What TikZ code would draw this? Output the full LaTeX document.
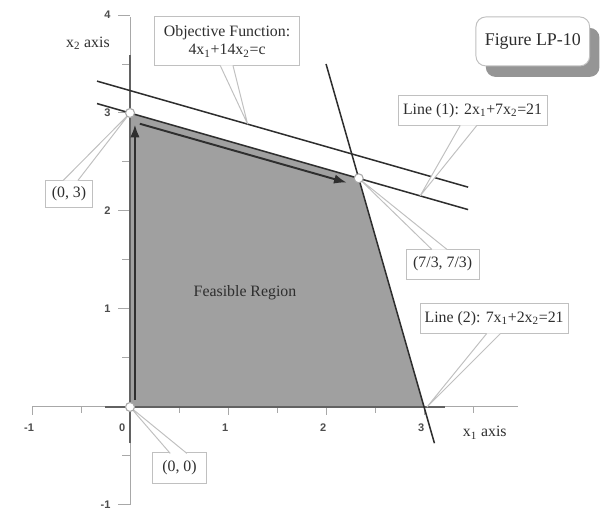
\documentclass[tikz,border=0pt]{standalone}
\usepackage{fontspec}
\setmainfont{Liberation Serif}
\setsansfont{Liberation Sans}
\usetikzlibrary{arrows.meta, calc, shadows}
\definecolor{Region}{HTML}{A0A0A0}
\definecolor{Ink}{HTML}{2E2E2E}
\definecolor{AxisGray}{HTML}{A8A8A8}
\definecolor{BoxGray}{HTML}{C0C0C0}
\definecolor{Shadow}{HTML}{959595}

\begin{document}
\begin{tikzpicture}[
      x=2.5cm, y=2.5cm,
      axis/.style={AxisGray, line width=0.7pt},
      bound/.style={Ink!75, line width=1.6pt},
      constr/.style={Ink, line width=1.1pt},
      walk/.style={-{Latex[length=3.2mm, width=2.4mm]}, Ink, line width=1.4pt},
      vertex/.style={circle, draw=AxisGray, fill=white, line width=0.8pt, inner sep=0pt, minimum size=2.3mm},
      callout/.style={rectangle, draw=BoxGray, fill=white, line width=0.7pt, align=center, inner sep=2pt, font=\fontsize{11.5}{13}\selectfont, text=Ink},
      pointer/.style={draw=BoxGray, fill=white, line width=0.7pt},
      figbox/.style={rectangle, rounded corners=2.5mm, draw=BoxGray, fill=white, line width=0.7pt, font=\fontsize{13}{15}\selectfont, text=Ink, drop shadow={shadow xshift=0.25cm, shadow yshift=-0.28cm, fill=Shadow, opacity=1}},
      ticklabel/.style={font=\sffamily\bfseries\fontsize{8}{9}\selectfont, text=Ink!85},
      axislabel/.style={font=\fontsize{11.5}{13}\selectfont, text=Ink},
  ]
  \useasboundingbox (-1.327,-1.082) rectangle (4.816,4.153);

  % Corner points
  \coordinate (O) at (0,0);
  \coordinate (A) at (0,3);
  \coordinate (B) at (7/3,7/3);
  \coordinate (C) at (3,0);

  % Feasible region
  \fill[Region] (O) -- (A) -- (B) -- (C) -- cycle;

  % Axes and ticks
  \draw[axis] (-1,0) -- (3.96,0);
  \draw[axis] (0,-1) -- (0,3.98);
  \foreach \t in {-1,1,2,3} \draw[axis] (\t,0) -- (\t,-0.08);
  \foreach \t in {-0.5,0.5,1.5,2.5,3.5} \draw[axis] (\t,0) -- (\t,-0.06);
  \foreach \t in {-1,1,2,3,4} \draw[axis] (0,\t) -- (-0.12,\t);
  \foreach \t in {-0.5,0.5,1.5,2.5,3.5} \draw[axis] (0,\t) -- (-0.08,\t);
  \foreach \t in {-1,1,2,3} \node[ticklabel] (xl\t) at (\t-0.03,-0.215) {\t};
  \node[ticklabel] (xl0) at (-0.08,-0.215) {0};
  \foreach \t in {-1,1,2,3,4} \node[ticklabel, anchor=east] (yl\t) at (-0.15,\t) {\t};
  \node[axislabel] (x1lbl) at (3.62,-0.265) {x\textsubscript{1} axis};
  \node[axislabel] (x2lbl) at (-0.43,3.71) {x\textsubscript{2} axis};

  % Constraint lines
  \draw[bound] (0,-0.37) -- (0,3.59);
  \draw[bound] (-0.255,0) -- (3.21,0);
  \draw[constr] (-0.337,3.096) -- (3.45,2.014);
  \draw[constr] (2,3.5) -- (3.106,-0.37);
  \draw[constr] (-0.337,3.325) -- (3.45,2.243);

  % Simplex path
  \draw[walk] (0.05,0.07) -- (0.05,2.88);
  \draw[walk] (0.1,2.89) -- (2.21,2.29);

  \node[axislabel] (region) at (1.173,1.163) {Feasible Region};

  % Callouts
  \coordinate (objtip) at (1.2,2.886);
  \coordinate (l1tip) at (2.96,2.154);
  \coordinate (l2tip) at (3.03,0);

  \node[callout, minimum width=3.72cm, minimum height=1.25cm] (objlbl) at (0.99,3.73) {Objective Function:\\4x\textsubscript{1}+14x\textsubscript{2}=c};
  \filldraw[pointer] ($(objlbl.south)+(-0.07,0.01)$) -- (objtip) -- ($(objlbl.south)+(0.06,0.01)$);

  \node[callout, minimum width=1.22cm, minimum height=0.69cm] (lblA) at (-0.6225,2.178) {(0, 3)};
  \filldraw[pointer] ($(lblA.north)+(-0.06,-0.01)$) -- (A) -- ($(lblA.north)+(0.09,-0.01)$);

  \node[callout, minimum width=3.8cm, minimum height=0.78cm] (l1lbl) at (3.495,3.025) {Line (1): 2x\textsubscript{1}+7x\textsubscript{2}=21};
  \filldraw[pointer] ($(l1lbl.south)+(-0.125,0.01)$) -- (l1tip) -- ($(l1lbl.south)+(0.045,0.01)$);

  \node[callout, minimum width=1.86cm, minimum height=0.765cm] (lblB) at (3.19,1.459) {(7/3, 7/3)};
  \filldraw[pointer] ($(lblB.north)+(-0.11,-0.01)$) -- (B) -- ($(lblB.north)+(0.045,-0.01)$);

  \node[callout, minimum width=3.78cm, minimum height=0.79cm] (l2lbl) at (3.715,0.903) {Line (2): 7x\textsubscript{1}+2x\textsubscript{2}=21};
  \filldraw[pointer] ($(l2lbl.south)+(-0.075,0.01)$) -- (l2tip) -- ($(l2lbl.south)+(0.065,0.01)$);

  \node[callout, minimum width=1.4cm, minimum height=0.77cm] (lblO) at (0.505,-0.6225) {(0, 0)};
  \filldraw[pointer] ($(lblO.north)+(-0.095,-0.01)$) -- (O) -- ($(lblO.north)+(0.075,-0.01)$);

  % Corner markers
  \node[vertex] (vO) at (O) {};
  \node[vertex] (vA) at (A) {};
  \node[vertex] (vB) at (B) {};

  \node[figbox, minimum width=2.9cm, minimum height=1.25cm] (figlbl) at (4.11,3.73) {Figure LP-10};

  \end{tikzpicture}
\end{document}
